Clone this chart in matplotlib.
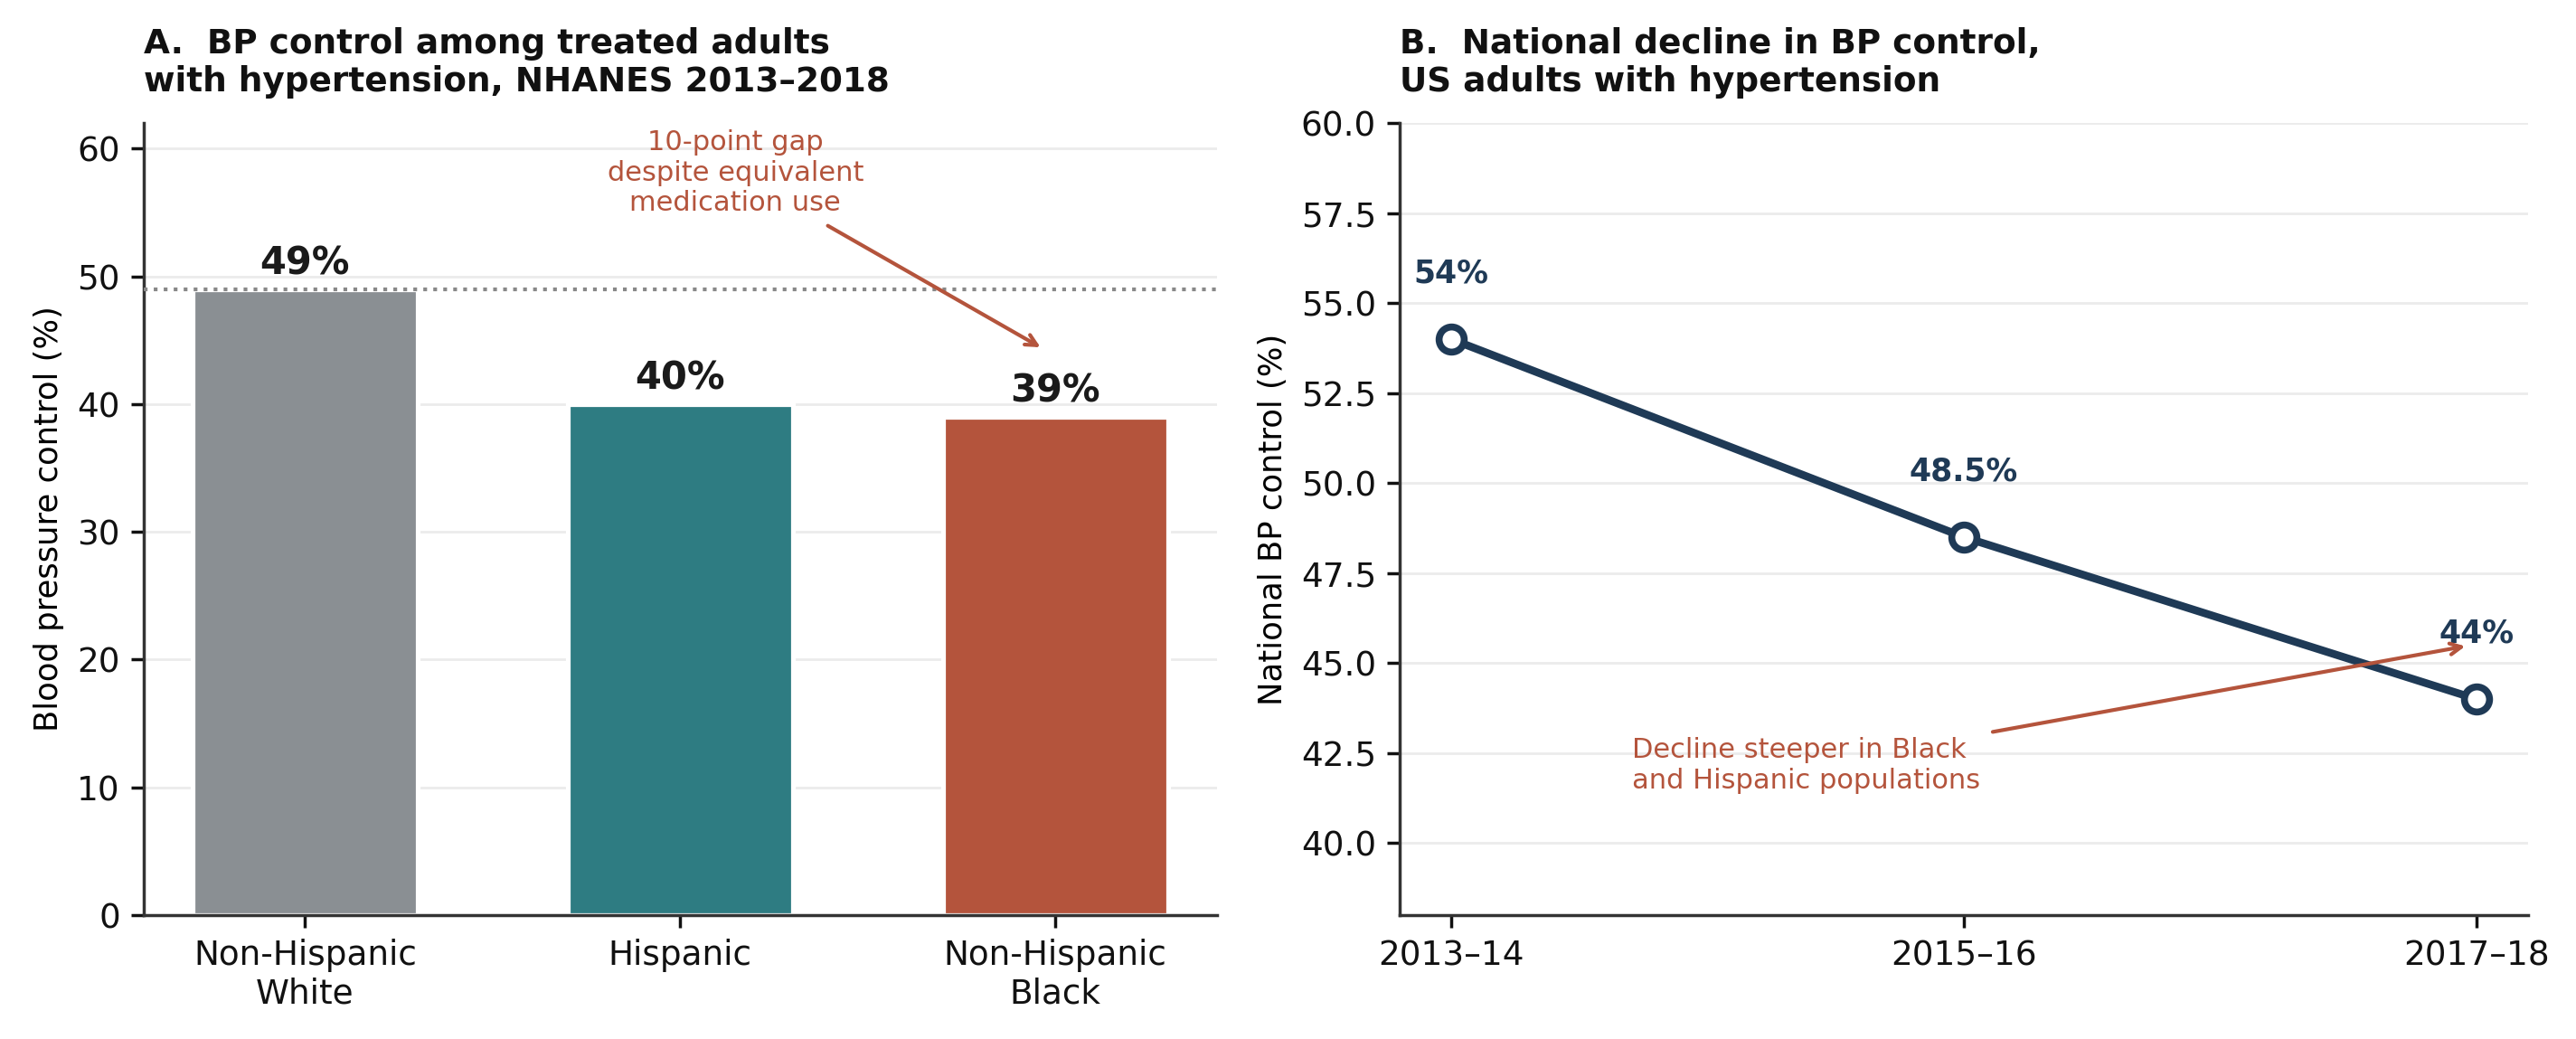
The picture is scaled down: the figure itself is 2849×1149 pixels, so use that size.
import matplotlib
matplotlib.use("Agg")
import matplotlib.pyplot as plt

# ---- data ----
groups = ["Non-Hispanic\nWhite", "Hispanic", "Non-Hispanic\nBlack"]
bp_control = [49, 40, 39]
bar_labels = ["49%", "40%", "39%"]
bar_colors = ["#8a8f93", "#2e7c82", "#b4543c"]
reference_level = 49

periods = ["2013–14", "2015–16", "2017–18"]
national = [54, 48.5, 44]
national_labels = ["54%", "48.5%", "44%"]

left_yticks = [0, 10, 20, 30, 40, 50, 60]
right_yticks = [40.0, 42.5, 45.0, 47.5, 50.0, 52.5, 55.0, 57.5, 60.0]

NAVY = "#1f3a56"
RUST = "#b4543c"
GRID = "#ebebeb"
SPINE = "#333333"

plt.rcParams["font.family"] = ["DejaVu Sans"]

fig = plt.figure(figsize=(2849 / 250, 1149 / 250), dpi=250)
axA = fig.add_axes([0.0558, 0.1192, 0.4723 - 0.0558, 0.8816 - 0.1192])
axB = fig.add_axes([0.5434, 0.1192, 0.9813 - 0.5434, 0.8816 - 0.1192])

for ax in (axA, axB):
    ax.spines["top"].set_visible(False)
    ax.spines["right"].set_visible(False)
    for s in ("left", "bottom"):
        ax.spines[s].set_color(SPINE)
        ax.spines[s].set_linewidth(1.0)
    ax.set_axisbelow(True)
    ax.yaxis.grid(True, color=GRID, linewidth=0.8)
    ax.tick_params(axis="both", labelsize=10.75, colors="#111111", width=1.0, length=4)

# ---- panel A ----
x = list(range(len(groups)))
axA.bar(x, bp_control, width=0.6, color=bar_colors, edgecolor="white", linewidth=1.5, zorder=2)
axA.axhline(reference_level, color="#888888", linestyle=":", linewidth=1.2, zorder=3)
for xi, v, lab in zip(x, bp_control, bar_labels):
    axA.text(xi, v + 0.5, lab, ha="center", va="bottom", fontsize=12, fontweight="bold", color="#1a1a1a")
axA.set_xticks(x)
axA.set_xticklabels(groups)
axA.set_ylim(0, 62)
axA.set_yticks(left_yticks)
axA.set_ylabel("Blood pressure control (%)", fontsize=10.2)
axA.set_title("A.  BP control among treated adults\nwith hypertension, NHANES 2013–2018",
              loc="left", fontsize=10.75, fontweight="bold", pad=10, color="#111111")
axA.annotate("10-point gap\ndespite equivalent\nmedication use",
             xy=(1.975, 44.2), xytext=(1.147, 58.1),
             ha="center", va="center", fontsize=8.8, color=RUST,
             arrowprops=dict(arrowstyle="->", color=RUST, lw=1.2))

# ---- panel B ----
xb = list(range(len(periods)))
axB.plot(xb, national, color=NAVY, linewidth=2.5, marker="o", markersize=8,
         markerfacecolor="white", markeredgecolor=NAVY, markeredgewidth=2.2, zorder=3)
for xi, v, lab in zip(xb, national, national_labels):
    axB.text(xi, v + 1.4, lab, ha="center", va="bottom", fontsize=10, fontweight="bold", color=NAVY)
axB.set_xlim(-0.1, 2.1)
axB.set_ylim(38, 60)
axB.set_yticks(right_yticks)
axB.set_xticks(xb)
axB.set_xticklabels(periods)
axB.set_ylabel("National BP control (%)", fontsize=10.2)
axB.set_title("B.  National decline in BP control,\nUS adults with hypertension",
              loc="left", fontsize=10.75, fontweight="bold", pad=10, color="#111111")
axB.annotate("Decline steeper in Black\nand Hispanic populations",
             xy=(1.99, 45.5), xytext=(0.353, 42.15),
             ha="left", va="center", fontsize=8.8, color=RUST,
             arrowprops=dict(arrowstyle="->", color=RUST, lw=1.2))

fig.savefig("out.png", dpi=250)
